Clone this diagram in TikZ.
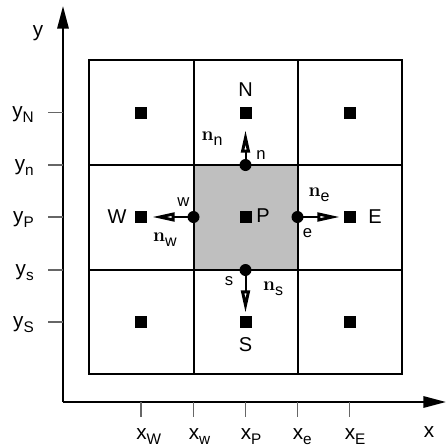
\documentclass[tikz,border=0pt]{standalone}
\usepackage[no-math]{fontspec}
\setmainfont{Liberation Sans}
\usetikzlibrary{arrows.meta}
\newcommand\lsub[2]{#1\raisebox{-4pt}{\fontsize{11.5}{13}\selectfont #2}}
\newcommand\nvec[1]{{\fontsize{14.4}{16}\selectfont$\mathbf{n}$}\raisebox{-3.5pt}{\fontsize{12}{13}\selectfont #1}}
\begin{document}
\begin{tikzpicture}[x=0.75pt,y=-0.75pt,
  gridline/.style={line width=1.5pt},
  axisline/.style={line width=1.6pt,-{Triangle[length=17pt,width=8.5pt]}},
  tickline/.style={line width=1.1pt,draw=black!60},
  cellpt/.style={fill=black,inner sep=0pt,minimum size=9pt},
  facept/.style={circle,fill=black,inner sep=0pt,minimum size=9pt},
  normalvec/.style={line width=1.5pt,-{Triangle[open,length=17pt,width=6.5pt,line width=2.2pt]},shorten <=-1pt},
  biglbl/.style={inner sep=0pt,font=\fontsize{15}{18}\selectfont},
  smalllbl/.style={inner sep=0pt,font=\fontsize{12.5}{14}\selectfont},
  ticklbl/.style={inner sep=0pt,font=\fontsize{15.5}{18}\selectfont},
  veclbl/.style={inner sep=0pt}]
\useasboundingbox (0,0) rectangle (446,447);
% shaded control volume
\fill[black!25] (193.5,165) rectangle (297.5,270);
% grid
\draw[gridline] (89,60) rectangle (402,374);
\draw[gridline] (193.5,60) -- (193.5,374);
\draw[gridline] (297.5,60) -- (297.5,374);
\draw[gridline] (89,165) -- (402,165);
\draw[gridline] (89,270) -- (402,270);
% axes
\coordinate (O) at (63,402);
\coordinate (ytip) at (63,6);
\coordinate (xtip) at (446,402);
\draw[axisline] (O) -- (ytip);
\draw[axisline] (O) -- (xtip);
\node[ticklbl] (ylab) at (38,33) {y};
\node[ticklbl] (xlab) at (429,432) {x};
% y ticks
\foreach \yy/\nm/\tx in {112.5/yN/{\lsub{y}{N}},165/yn/{\lsub{y}{n}},217/yP/{\lsub{y}{P}},270/ys/{\lsub{y}{s}},322/yS/{\lsub{y}{S}}}{
  \coordinate (t\nm a) at (48,\yy);
  \coordinate (t\nm b) at (63,\yy);
  \draw[tickline] (t\nm a) -- (t\nm b);
  \node[ticklbl,anchor=base east] (l\nm) at (34,\yy+5) {\tx};
}
% x ticks
\foreach \xx/\nm/\tx in {141/xW/{\lsub{x}{W}},193.5/xw/{\lsub{x}{w}},245.5/xP/{\lsub{x}{P}},297.5/xe/{\lsub{x}{e}},349.5/xE/{\lsub{x}{E}}}{
  \coordinate (t\nm a) at (\xx,402);
  \coordinate (t\nm b) at (\xx,417);
  \draw[tickline] (t\nm a) -- (t\nm b);
  \node[ticklbl,anchor=base west] (l\nm) at (\xx-5,439) {\tx};
}
% cell centres
\node[cellpt] (NW) at (141,112.5) {};
\node[cellpt] (N) at (245.5,112.5) {};
\node[cellpt] (NE) at (349.5,112.5) {};
\node[cellpt] (W) at (141,217) {};
\node[cellpt] (P) at (245.5,217) {};
\node[cellpt] (E) at (349.5,217) {};
\node[cellpt] (SW) at (141,322) {};
\node[cellpt] (S) at (245.5,322) {};
\node[cellpt] (SE) at (349.5,322) {};
% face points
\node[facept] (w) at (193.5,217) {};
\node[facept] (e) at (297.5,217) {};
\node[facept] (n) at (245.5,165) {};
\node[facept] (s) at (245.5,270) {};
% normal vector tips
\coordinate (nwtip) at (152,217);
\coordinate (netip) at (340,217);
\coordinate (nntip) at (245.5,130);
\coordinate (nstip) at (245.5,313);
\draw[normalvec] (w.center) -- (nwtip);
\draw[normalvec] (e.center) -- (netip);
\draw[normalvec] (n.center) -- (nntip);
\draw[normalvec] (s.center) -- (nstip);
% labels
\node[biglbl] (Nl) at (245.5,90) {N};
\node[biglbl] (Sl) at (245.5,345) {S};
\node[biglbl] (Wl) at (117,217) {W};
\node[biglbl] (El) at (375,217) {E};
\node[biglbl] (Pl) at (263,216) {P};
\node[smalllbl] (nl) at (261,155) {n};
\node[smalllbl] (wl) at (183.5,202) {w};
\node[smalllbl] (el) at (307.5,233) {e};
\node[smalllbl] (sl) at (229,281) {s};
\node[veclbl] (nnl) at (212,139) {\nvec{n}};
\node[veclbl] (nel) at (319,195) {\nvec{e}};
\node[veclbl] (nwl) at (165,240) {\nvec{w}};
\node[veclbl] (nsl) at (273,289) {\nvec{s}};
\end{tikzpicture}
\end{document}
